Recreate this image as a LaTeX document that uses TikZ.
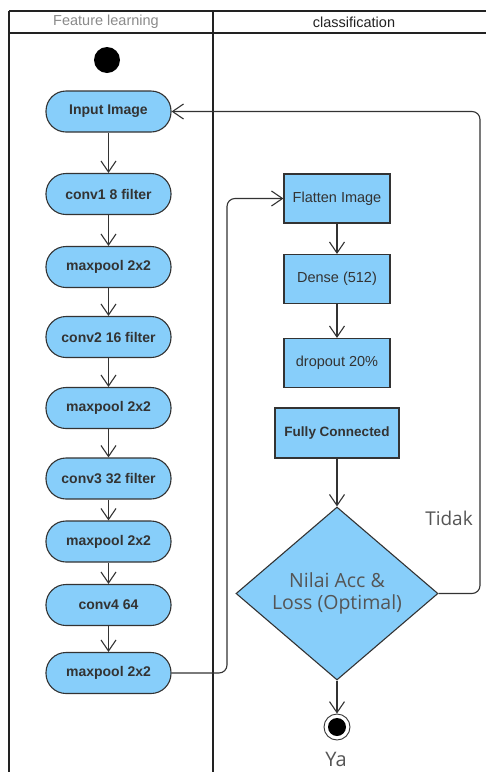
\documentclass[tikz,border=0pt]{standalone}
\usepackage{fontspec}
\setmainfont{Liberation Sans}
\newfontfamily\opensans{Open Sans}
\usetikzlibrary{arrows.meta,shapes.geometric,calc}
\definecolor{nodefill}{HTML}{87CEFA}
\definecolor{edge}{HTML}{333333}
\definecolor{lanecol}{HTML}{222222}
\definecolor{softtext}{HTML}{555555}
\definecolor{headgray}{HTML}{8A8A8A}
\begin{document}
\begin{tikzpicture}[x=1pt,y=-1pt,
  act/.style={draw=edge, line width=1.1pt, fill=nodefill, rounded corners=20pt,
    minimum width=125pt, minimum height=41pt, inner sep=0pt, text=edge,
    font=\fontsize{14}{16}\selectfont\bfseries},
  box/.style={draw=edge, line width=1.1pt, fill=nodefill,
    minimum width=106pt, minimum height=49pt, inner sep=0pt, text=edge,
    font=\fontsize{14.5}{16}\selectfont},
  arr/.style={draw=edge, line width=1.1pt, -{Straight Barb[length=11pt,width=15pt,line width=1.1pt]}},
  lane/.style={draw=lanecol, line width=1.5pt},
  hdr/.style={font=\fontsize{14.5}{16}\selectfont, inner sep=0pt}
]
\useasboundingbox (0,0) rectangle (486,772);
% swimlanes
\draw[lane] (9,11) -- (486,11);
\draw[lane, line width=2.2pt] (9,33) -- (486,33);
\draw[lane] (9,11) -- (9,772);
\draw[lane, line width=2pt] (213,11) -- (213,772);
\node[hdr, text=headgray] (h1) at (106,22) {Feature learning};
\node[hdr, text=lanecol] (h2) at (354,22) {classification};

% start
\node[circle, fill=black, minimum size=26pt, inner sep=0pt] (start) at (107,60) {};

% feature learning column
\node[act] (in) at (108.5,111.5) {Input Image};
\node[act] (c1) at (108.5,194) {conv1 8 filter};
\node[act] (m1) at (108.5,267) {maxpool 2x2};
\node[act] (c2) at (108.5,337) {conv2 16 filter};
\node[act] (m2) at (108.5,408) {maxpool 2x2};
\node[act] (c3) at (108.5,478.5) {conv3 32 filter};
\node[act] (m3) at (108.5,541.5) {maxpool 2x2};
\node[act] (c4) at (108.5,605) {conv4 64};
\node[act] (m4) at (108.5,673) {maxpool 2x2};

\draw[arr] (in) -- (c1);
\draw[arr] (c1) -- (m1);
\draw[arr] (m1) -- (c2);
\draw[arr] (c2) -- (m2);
\draw[arr] (m2) -- (c3);
\draw[arr] (c3) -- (m3);
\draw[arr] (m3) -- (c4);
\draw[arr] (c4) -- (m4);

% classification column
\node[box] (fl) at (337,198.5) {Flatten Image};
\node[box] (de) at (337,279) {Dense (512)};
\node[box] (dr) at (337,363) {dropout 20\%};
\node[box, minimum width=124pt, minimum height=50pt,
  font=\fontsize{13.5}{16}\selectfont\bfseries] (fc) at (337,433) {Fully Connected};
\node[diamond, draw=edge, line width=1.1pt, fill=nodefill, minimum width=202pt,
  minimum height=173pt, inner sep=0pt, text=softtext, align=center,
  font=\opensans\fontsize{19.5}{22}\selectfont] (dec) at (337,593.5)
  {Nilai Acc \&\\Loss (Optimal)};
\node[circle, draw=edge, line width=0.9pt, minimum size=26pt, inner sep=0pt] (endring) at (337,727) {};
\node[circle, fill=black, minimum size=18pt, inner sep=0pt] (enddot) at (endring.center) {};
\node[text=softtext, font=\opensans\fontsize{20}{22}\selectfont, inner sep=0pt] (ya) at (336,759) {Ya};
\node[text=softtext, font=\opensans\fontsize{19}{22}\selectfont, inner sep=0pt] (tidak) at (449,518) {Tidak};

\draw[arr] (fl) -- (de);
\draw[arr] (de) -- (dr);
\draw[arr] (fc) -- (dec);
\draw[arr] (dec) -- (endring);

% connectors between lanes
\coordinate (jx) at (227,0);
\coordinate (lx) at (480,0);
\draw[arr, rounded corners=8pt] (m4.east) -- (m4.east -| jx) -- (fl.west -| jx) -- (fl.west);
\draw[arr, rounded corners=8pt] (dec.east) -- (dec.east -| lx) -- (in.east -| lx) -- (in.east);
\end{tikzpicture}
\end{document}
